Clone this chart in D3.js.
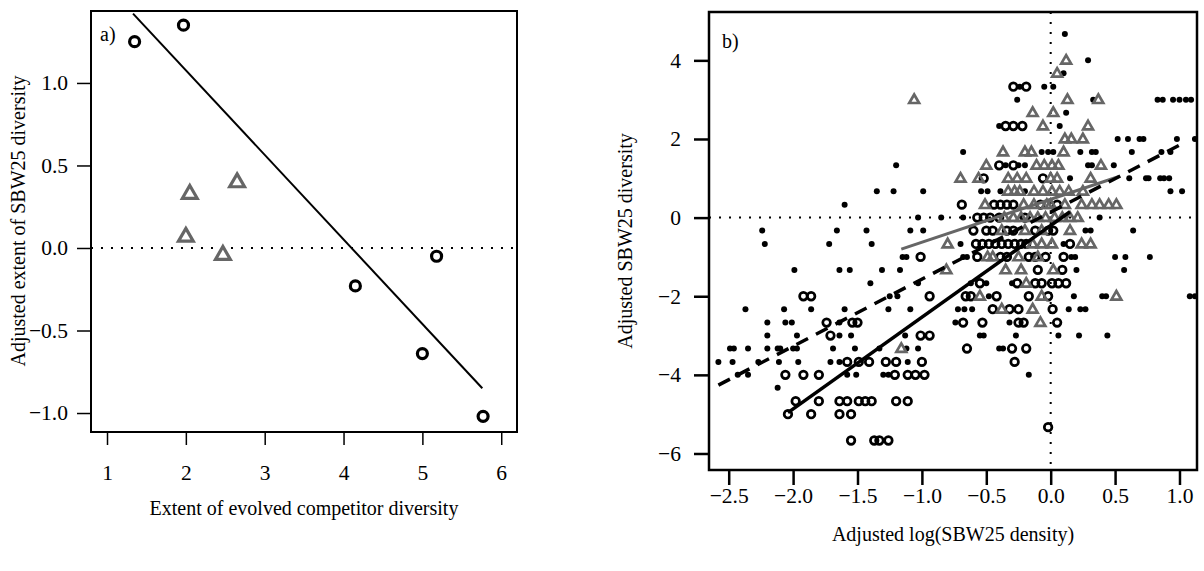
<html>
<head>
<meta charset="utf-8">
<script src="https://d3js.org/d3.v7.min.js"></script>
<style>
body { margin: 0; background: #fff; }
text { font-family: "Liberation Serif", "Times New Roman", serif; fill: #000; }
</style>
</head>
<body>
<svg id="chart" width="1204" height="571"></svg>
<script>
// ---- panel a data ----
var aCircX = [1.35, 1.97, 4.15, 5.00, 5.18, 5.77];
var aCircY = [1.25, 1.35, -0.23, -0.64, -0.05, -1.02];
var aTriX = [2.00, 2.05, 2.47, 2.65];
var aTriY = [0.07, 0.33, -0.04, 0.40];
var aFitX = [1.33, 5.76];
var aFitY = [1.42, -0.85];
var aXTicks = [1, 2, 3, 4, 5, 6];
var aYTicks = [-1.0, -0.5, 0.0, 0.5, 1.0];

// ---- panel b data : rows of [y, [x values]] ----
var bDots = [
  [4.67, [0.11]],
  [4.0, [0.29]],
  [3.67, [0.10]],
  [3.33, [-0.24, -0.05, 0.02]],
  [3.0, [-0.26, 0.33, 0.83, 0.87, 0.95, 1.0, 1.05, 1.09]],
  [2.67, [0.12]],
  [2.33, [-0.40, 0.07]],
  [2.0, [0.52, 0.60, 0.69, 0.72, 0.98, 1.12]],
  [1.67, [-0.68, -0.07, -0.02, 0.02, 0.23, 0.32, 0.35, 0.63, 0.86, 0.93]],
  [1.33, [-1.20, -0.35, -0.25, -0.20, 0.29, 0.32, 0.49]],
  [1.0, [0.15, 0.61, 0.74, 0.76, 0.85, 0.88, 0.92]],
  [0.67, [-1.35, -1.22, -0.99, -0.54, -0.49, -0.39, -0.20, 0.93, 1.02]],
  [0.33, [-1.60]],
  [0.0, [-1.03, -0.85, -0.68, 0.38]],
  [-0.33, [-2.24, -1.66, -1.43, -1.09, -0.99, 0.27, 0.31, 0.64]],
  [-0.67, [-2.22, -1.72, -1.39, -0.70, 0.10]],
  [-1.0, [-1.15, -1.12, -0.68, -0.65, 0.16, 0.19, 0.50, 0.58, 0.77]],
  [-1.33, [-1.99, -1.64, -1.56, -1.31, -1.17, 0.20, 0.57]],
  [-1.67, [-1.40, -1.03, -0.62, -0.50, -0.30]],
  [-2.0, [-1.25, -1.19, -0.48, 0.18, 0.40, 0.43, 1.08, 1.12]],
  [-2.33, [-2.37, -2.07, -1.86, -1.60, -1.26, -1.09, -0.72, -0.67, -0.61, 0.14, 0.23, 0.27]],
  [-2.67, [-2.20, -2.06, -2.01, -1.64, -0.74, -0.32]],
  [-3.0, [-2.20, -1.97, -1.64, -1.55, -1.13, -0.55, -0.52, -0.27, 0.06, 0.22, 0.44]],
  [-3.33, [-2.49, -2.46, -2.35, -2.20, -2.12, -2.10, -2.00, -1.97, -1.69, -1.52, -1.33, -1.12, -1.03, -0.40, -0.37]],
  [-3.67, [-2.58, -2.47, -2.27, -2.11, -1.96, -1.71, -1.64, -1.11]],
  [-4.0, [-2.43, -2.35, -1.58, -1.51, -1.30, -1.26, -0.17]],
  [-4.33, [-2.12]]
];
var bCircles = [
  [3.33, [-0.29, -0.19]],
  [2.33, [-0.35, -0.29, -0.22]],
  [1.33, [-0.40, -0.29]],
  [1.0, [-0.52, -0.06]],
  [0.33, [-0.69, -0.44, -0.39, -0.34, -0.29, -0.08, 0.05]],
  [0.0, [-0.57, -0.52, -0.47, -0.40, -0.20]],
  [-0.33, [-0.60, -0.50, -0.45, -0.34, -0.29, -0.12, -0.02, 0.02]],
  [-0.67, [-0.58, -0.53, -0.48, -0.43, -0.38, -0.33, -0.28, -0.23, -0.19, 0.15]],
  [-1.0, [-1.01, -0.57, -0.39, -0.34, -0.17, -0.12, -0.04, 0.10]],
  [-1.33, [-0.10, 0.09]],
  [-1.67, [-0.55, -0.26, -0.12, -0.07, 0.01, 0.06, 0.12]],
  [-2.0, [-1.92, -1.86, -0.94, -0.66, -0.62, -0.42, -0.17, -0.02]],
  [-2.33, [-0.45, -0.32, -0.25, 0.015]],
  [-2.67, [-1.74, -1.54, -1.50, -0.68, -0.53, -0.25, -0.21, 0.05]],
  [-3.0, [-1.71, -1.01, -0.94]],
  [-3.33, [-0.65, -0.30, -0.19]],
  [-3.67, [-1.58, -1.49, -1.41, -1.28, -1.20, -1.00, -0.28]],
  [-4.0, [-2.06, -1.92, -1.80, -1.21, -1.11, -1.05, -0.98]],
  [-4.67, [-1.98, -1.80, -1.64, -1.58, -1.49, -1.44, -1.39, -1.20, -1.11]],
  [-5.0, [-2.04, -1.86, -1.64, -1.55]],
  [-5.33, [-0.02]],
  [-5.67, [-1.55, -1.37, -1.33, -1.26]]
];
var bTriangles = [
  [4.0, [0.12]],
  [3.67, [0.05]],
  [3.0, [-1.06, 0.13, 0.37]],
  [2.67, [-0.14, 0.02]],
  [2.33, [-0.06, 0.29]],
  [2.0, [0.11, 0.16, 0.25]],
  [1.67, [-0.37, -0.20, -0.15, 0.10]],
  [1.33, [-0.50, -0.11, -0.05, 0.01, 0.06, 0.39]],
  [1.0, [-0.70, -0.56, -0.33, -0.26, -0.19, 0.0, 0.05, 0.31]],
  [0.67, [-0.33, -0.28, -0.24, -0.13, -0.06, 0.01, 0.07, 0.14, 0.25]],
  [0.33, [-0.51, -0.21, -0.13, -0.03, 0.0, 0.11, 0.24, 0.32, 0.38, 0.45, 0.51]],
  [0.0, [-0.36, -0.29, -0.23, -0.16, -0.10, -0.04, 0.03, 0.09, 0.15, 0.21]],
  [-0.33, [-0.38, -0.20, -0.07, 0.15]],
  [-0.67, [-0.80, -0.14, -0.07, 0.01, 0.24, 0.31]],
  [-1.0, [-0.49, -0.45, -0.25, -0.10]],
  [-1.33, [-0.81, -0.35, -0.23, 0.02]],
  [-1.67, [-0.19]],
  [-2.0, [-0.55, -0.07, 0.51]],
  [-2.33, [-0.38, -0.14]],
  [-2.67, [-0.08]],
  [-3.33, [-1.16]]
];
var bFitBlackX = [-2.04, 0.15];
var bFitBlackY = [-4.96, 0.15];
var bFitDashX = [-2.58, 1.05];
var bFitDashY = [-4.26, 1.93];
var bFitGreyX = [-1.16, 0.525];
var bFitGreyY = [-0.80, 1.04];
var bXTicks = [-2.5, -2.0, -1.5, -1.0, -0.5, 0.0, 0.5, 1.0];
var bYTicks = [-6, -4, -2, 0, 2, 4];

var grey = "#666666";
var svg = d3.select("#chart");
var fmtMinus = function(s) { return s.replace("-", "\u2212"); };

function flatten(rows) {
  var out = [];
  rows.forEach(function(r) { r[1].forEach(function(x) { out.push({x: x, y: r[0]}); }); });
  return out;
}

function tidyAxis(g, fontSize, width) {
  g.attr("font-family", null).attr("font-size", null);
  g.select(".domain").remove();
  g.selectAll(".tick line").attr("stroke", "#000").attr("stroke-width", width);
  g.selectAll(".tick text").attr("font-size", fontSize)
    .style("font-family", "'Liberation Serif', serif").attr("fill", "#000");
}

// ================= panel a =================
var xA = d3.scaleLinear().domain([0.797, 6.2]).range([91, 517]);
var yA = d3.scaleLinear().domain([-1.115, 1.436]).range([432, 11]);
var gA = svg.append("g");

gA.append("line")
  .attr("x1", xA.range()[0]).attr("x2", xA.range()[1])
  .attr("y1", yA(0)).attr("y2", yA(0))
  .attr("stroke", "#000").attr("stroke-width", 2).attr("stroke-dasharray", "2,8");

gA.append("g").attr("transform", "translate(0,432)")
  .call(d3.axisBottom(xA).tickValues(aXTicks).tickSize(13).tickPadding(20).tickFormat(d3.format("d")))
  .call(tidyAxis, 21.5, 1.5);
gA.append("g").attr("transform", "translate(91,0)")
  .call(d3.axisLeft(yA).tickValues(aYTicks).tickSize(14).tickPadding(9)
    .tickFormat(function(d) { return fmtMinus(d3.format(".1f")(d)); }))
  .call(tidyAxis, 21.5, 1.5);

gA.selectAll("circle.pt").data(aCircX).enter().append("circle")
  .attr("cx", function(d) { return xA(d); })
  .attr("cy", function(d, i) { return yA(aCircY[i]); })
  .attr("r", 5).attr("fill", "none").attr("stroke", "#000").attr("stroke-width", 3.2);

gA.selectAll("path.tri").data(aTriX).enter().append("path")
  .attr("d", d3.symbol(d3.symbolTriangle, 95))
  .attr("transform", function(d, i) { return "translate(" + xA(d) + "," + (yA(aTriY[i]) + 0.5) + ")"; })
  .attr("fill", "none").attr("stroke", grey).attr("stroke-width", 3.2).attr("stroke-linejoin", "miter");

gA.append("line")
  .attr("x1", xA(aFitX[0])).attr("y1", yA(aFitY[0]))
  .attr("x2", xA(aFitX[1])).attr("y2", yA(aFitY[1]))
  .attr("stroke", "#000").attr("stroke-width", 2);

gA.append("rect").attr("x", 91).attr("y", 11).attr("width", 426).attr("height", 421)
  .attr("fill", "none").attr("stroke", "#000").attr("stroke-width", 2);

gA.append("text").attr("x", 100).attr("y", 41).attr("font-size", 20).text("a)");
gA.append("text").attr("x", 304).attr("y", 515).attr("font-size", 20)
  .attr("text-anchor", "middle").text("Extent of evolved competitor diversity");
gA.append("text").attr("transform", "translate(25,221) rotate(-90)").attr("font-size", 20)
  .attr("text-anchor", "middle").text("Adjusted extent of SBW25 diversity");

// ================= panel b =================
var xB = d3.scaleLinear().domain([-2.653, 1.136]).range([709, 1197]);
var yB = d3.scaleLinear().domain([-6.42, 5.23]).range([470, 12]);
var gB = svg.append("g");

gB.append("line")
  .attr("x1", 709).attr("x2", 1197).attr("y1", yB(0)).attr("y2", yB(0))
  .attr("stroke", "#000").attr("stroke-width", 2).attr("stroke-dasharray", "2,8");
gB.append("line")
  .attr("x1", xB(0)).attr("x2", xB(0)).attr("y1", 12).attr("y2", 470)
  .attr("stroke", "#000").attr("stroke-width", 2).attr("stroke-dasharray", "2,8");

gB.append("g").attr("transform", "translate(0,470)")
  .call(d3.axisBottom(xB).tickValues(bXTicks).tickSize(15).tickPadding(3)
    .tickFormat(function(d) { return fmtMinus(d3.format(".1f")(d)); }))
  .call(tidyAxis, 21.5, 2.5);
gB.append("g").attr("transform", "translate(709,0)")
  .call(d3.axisLeft(yB).tickValues(bYTicks).tickSize(15).tickPadding(13)
    .tickFormat(function(d) { return fmtMinus(d3.format("d")(d)); }))
  .call(tidyAxis, 21.5, 2.5);

gB.selectAll("circle.dot").data(flatten(bDots)).enter().append("circle")
  .attr("cx", function(d) { return xB(d.x); })
  .attr("cy", function(d) { return yB(d.y); })
  .attr("r", 3).attr("fill", "#000");

gB.selectAll("circle.ring").data(flatten(bCircles)).enter().append("circle")
  .attr("cx", function(d) { return xB(d.x); })
  .attr("cy", function(d) { return yB(d.y); })
  .attr("r", 3.8).attr("fill", "none").attr("stroke", "#000").attr("stroke-width", 2.7);

gB.selectAll("path.tri").data(flatten(bTriangles)).enter().append("path")
  .attr("d", d3.symbol(d3.symbolTriangle, 42))
  .attr("transform", function(d) { return "translate(" + xB(d.x) + "," + (yB(d.y) + 0.5) + ")"; })
  .attr("fill", "none").attr("stroke", grey).attr("stroke-width", 2.7);

gB.append("line")
  .attr("x1", xB(bFitGreyX[0])).attr("y1", yB(bFitGreyY[0]))
  .attr("x2", xB(bFitGreyX[1])).attr("y2", yB(bFitGreyY[1]))
  .attr("stroke", grey).attr("stroke-width", 3);
gB.append("line")
  .attr("x1", xB(bFitDashX[0])).attr("y1", yB(bFitDashY[0]))
  .attr("x2", xB(bFitDashX[1])).attr("y2", yB(bFitDashY[1]))
  .attr("stroke", "#000").attr("stroke-width", 3.5).attr("stroke-dasharray", "13,9");
gB.append("line")
  .attr("x1", xB(bFitBlackX[0])).attr("y1", yB(bFitBlackY[0]))
  .attr("x2", xB(bFitBlackX[1])).attr("y2", yB(bFitBlackY[1]))
  .attr("stroke", "#000").attr("stroke-width", 3.5);

gB.append("rect").attr("x", 709).attr("y", 12).attr("width", 488).attr("height", 458)
  .attr("fill", "none").attr("stroke", "#000").attr("stroke-width", 2.5);

gB.append("text").attr("x", 722).attr("y", 48).attr("font-size", 20).text("b)");
gB.append("text").attr("x", 953).attr("y", 541).attr("font-size", 20)
  .attr("text-anchor", "middle").text("Adjusted log(SBW25 density)");
gB.append("text").attr("transform", "translate(632,241) rotate(-90)").attr("font-size", 20)
  .attr("text-anchor", "middle").text("Adjusted SBW25 diversity");
</script>
</body>
</html>
